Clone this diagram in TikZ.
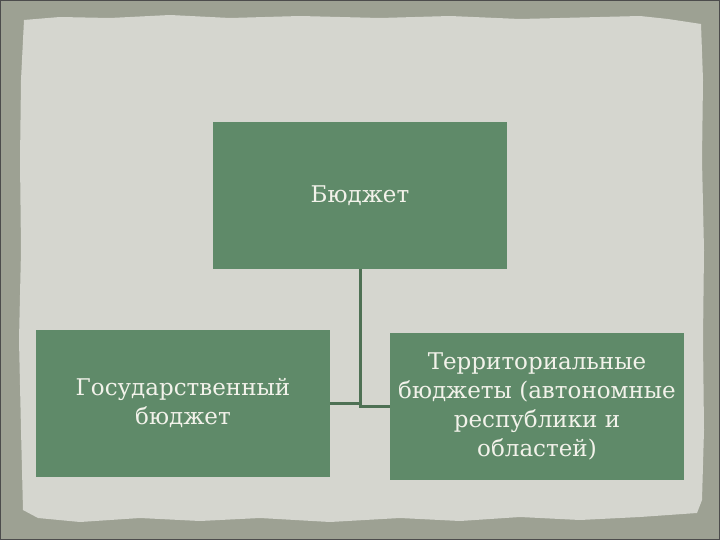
\documentclass[tikz,border=0pt]{standalone}
\usepackage{fontspec}
\setmainfont{DejaVu Serif}
\definecolor{frame}{HTML}{9DA193}
\definecolor{paper}{HTML}{D5D6CF}
\definecolor{boxgreen}{HTML}{5F8A69}
\definecolor{linegreen}{HTML}{4E7154}
\definecolor{boxtext}{HTML}{F2F2EA}
\begin{document}
\begin{tikzpicture}[x=1pt, y=-1pt,
    budget/.style={fill=boxgreen, text=boxtext, minimum width=294pt, minimum height=147pt,
                   align=center, inner sep=0pt, font=\fontsize{23}{29}\selectfont},
    link/.style={draw=linegreen, line width=3pt}]
    \useasboundingbox (0,0) rectangle (720,540);
    % frame and torn paper
    \fill[frame] (0,0) rectangle (720,540);
    \draw[black!70, line width=1.5pt] (0,0) rectangle (720,540);
    \fill[paper] (24,20) -- (60,17) -- (110,18) -- (170,15) -- (230,18) -- (300,16)
        -- (380,18) -- (450,16) -- (520,19) -- (600,17) -- (640,16) -- (668,19) -- (701,24)
        -- (703,80) -- (702,160) -- (704,250) -- (703,340) -- (704,430) -- (702,500) -- (697,513)
        -- (640,517) -- (580,520) -- (520,517) -- (460,521) -- (400,518) -- (330,522) -- (260,518)
        -- (200,521) -- (140,518) -- (80,522) -- (38,518) -- (23,510)
        -- (21,430) -- (19,340) -- (21,250) -- (20,160) -- (21,80) -- cycle;
    % boxes
    \node[budget] (main) at (360,195.5) {Бюджет};
    \node[budget] (state) at (183,403.5) {Государственный\\бюджет};
    \node[budget] (terr) at (537,406.5) {Территориальные\\бюджеты (автономные\\республики и\\областей)};
    % connectors
    \draw[link] (main.south) |- (state.east);
    \draw[link] (main.south) |- (terr.west);
\end{tikzpicture}
\end{document}
